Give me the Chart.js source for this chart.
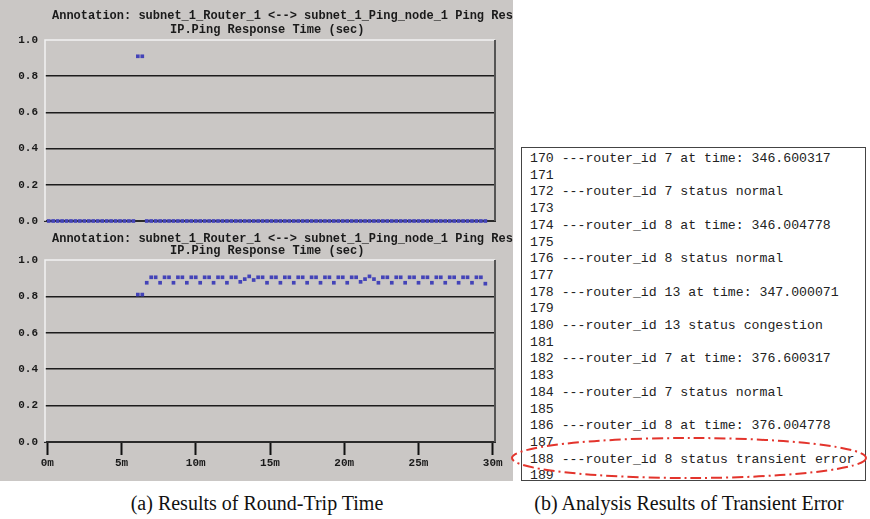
<!DOCTYPE html>
<html>
<head>
<meta charset="utf-8">
<script src="https://cdn.jsdelivr.net/npm/chart.js@4.4.1/dist/chart.umd.min.js"></script>
<style>
  body { margin: 0; width: 870px; height: 519px; background: #fff; position: relative; overflow: hidden; }
  #panel { position: absolute; left: 0; top: 0; width: 513px; height: 481px; background: #cac7c5; }
  #topWrap { position: absolute; left: 0; top: 0; width: 513px; height: 235px; }
  #botWrap { position: absolute; left: 0; top: 226px; width: 513px; height: 255px; }
  .cap { position: absolute; font-family: "Liberation Serif", serif; font-size: 20px; color: #111; white-space: nowrap; transform: translateX(-50%); }
  #log { position: absolute; left: 521px; top: 147px; width: 343px; height: 332px; border: 1.5px solid #444; background: #fff; }
  #log pre { margin: 0; padding: 3px 0 0 8px; font-family: "Liberation Mono", monospace; font-size: 13.2px; line-height: 16.7px; color: #222; }
  #ring { position: absolute; left: 0; top: 0; }
</style>
</head>
<body>
<div id="panel"></div>
<div id="topWrap"><canvas id="topChart"></canvas></div>
<div id="botWrap"><canvas id="botChart"></canvas></div>
<div class="cap" style="left:257px; top:492px;">(a) Results of Round-Trip Time</div>
<div class="cap" style="left:689px; top:492px;">(b) Analysis Results of Transient Error</div>
<div id="log"><pre id="logText"></pre></div>
<svg id="ring" width="870" height="519">
  <ellipse cx="689" cy="458" rx="177" ry="20" fill="none" stroke="#e3342c" stroke-width="2" stroke-dasharray="11 4 2 4"/>
</svg>
<script>
// sample times (minutes)
const sampleTimes = [
  0.1, 0.4, 0.7, 1.0, 1.3, 1.6, 1.9, 2.2, 2.5, 2.8,
  3.1, 3.4, 3.7, 4.0, 4.3, 4.6, 4.9, 5.2, 5.5, 5.8,
  6.1, 6.4, 6.7, 7.0, 7.3, 7.6, 7.9, 8.2, 8.5, 8.8,
  9.1, 9.4, 9.7, 10.0, 10.3, 10.6, 10.9, 11.2, 11.5, 11.8,
  12.1, 12.4, 12.7, 13.0, 13.3, 13.6, 13.9, 14.2, 14.5, 14.8,
  15.1, 15.4, 15.7, 16.0, 16.3, 16.6, 16.9, 17.2, 17.5, 17.8,
  18.1, 18.4, 18.7, 19.0, 19.3, 19.6, 19.9, 20.2, 20.5, 20.8,
  21.1, 21.4, 21.7, 22.0, 22.3, 22.6, 22.9, 23.2, 23.5, 23.8,
  24.1, 24.4, 24.7, 25.0, 25.3, 25.6, 25.9, 26.2, 26.5, 26.8,
  27.1, 27.4, 27.7, 28.0, 28.3, 28.6, 28.9, 29.2, 29.5
];

// IP.Ping response time, first run (sec)
const pingRun1 = [
  0, 0, 0, 0, 0, 0, 0, 0, 0, 0,
  0, 0, 0, 0, 0, 0, 0, 0, 0, 0,
  0.91, 0.91, 0, 0, 0, 0, 0, 0, 0, 0,
  0, 0, 0, 0, 0, 0, 0, 0, 0, 0,
  0, 0, 0, 0, 0, 0, 0, 0, 0, 0,
  0, 0, 0, 0, 0, 0, 0, 0, 0, 0,
  0, 0, 0, 0, 0, 0, 0, 0, 0, 0,
  0, 0, 0, 0, 0, 0, 0, 0, 0, 0,
  0, 0, 0, 0, 0, 0, 0, 0, 0, 0,
  0, 0, 0, 0, 0, 0, 0, 0, 0
];

// IP.Ping response time, second run (sec)
const pingRun2 = [
  null, null, null, null, null, null, null, null, null, null,
  null, null, null, null, null, null, null, null, null, null,
  0.81, 0.81, 0.875, 0.905, 0.905, 0.875, 0.905, 0.905, 0.875, 0.905,
  0.905, 0.875, 0.905, 0.905, 0.875, 0.905, 0.905, 0.875, 0.905, 0.905,
  0.875, 0.905, 0.905, 0.88, 0.895, 0.91, 0.89, 0.905, 0.905, 0.875,
  0.905, 0.905, 0.875, 0.905, 0.905, 0.875, 0.905, 0.905, 0.875, 0.905,
  0.905, 0.875, 0.905, 0.905, 0.875, 0.905, 0.905, 0.875, 0.905, 0.905,
  0.88, 0.895, 0.91, 0.895, 0.875, 0.905, 0.905, 0.875, 0.905, 0.905,
  0.875, 0.905, 0.905, 0.875, 0.905, 0.905, 0.875, 0.905, 0.905, 0.875,
  0.905, 0.905, 0.875, 0.905, 0.905, 0.875, 0.905, 0.905, 0.87
];

const xTickValues = [0, 5, 10, 15, 20, 25, 30];
const yTickValues = [0, 0.2, 0.4, 0.6, 0.8, 1.0];

const titleLines = [
  "Annotation: subnet_1_Router_1 <--> subnet_1_Ping_node_1 Ping Response Time",
  "IP.Ping Response Time (sec)"
];

const logLines = [
  "170 ---router_id 7 at time: 346.600317",
  "171",
  "172 ---router_id 7 status normal",
  "173",
  "174 ---router_id 8 at time: 346.004778",
  "175",
  "176 ---router_id 8 status normal",
  "177",
  "178 ---router_id 13 at time: 347.000071",
  "179",
  "180 ---router_id 13 status congestion",
  "181",
  "182 ---router_id 7 at time: 376.600317",
  "183",
  "184 ---router_id 7 status normal",
  "185",
  "186 ---router_id 8 at time: 376.004778",
  "187",
  "188 ---router_id 8 status transient error",
  "189"
];

document.getElementById("logText").textContent = logLines.join("\n");

const monoFont = { family: "Liberation Mono", size: 11, weight: "bold" };

// heading text + 3D-ish frame around the plot area
const framePlugin = {
  id: "frame",
  afterDraw(chart, args, opts) {
    const { ctx, chartArea: a } = chart;
    ctx.save();
    ctx.font = "bold 12px 'Liberation Mono'";
    ctx.fillStyle = "#1a1a1a";
    ctx.textBaseline = "middle";
    ctx.textAlign = "left";
    ctx.fillText(titleLines[0], 52, opts.line1);
    ctx.fillText(titleLines[1], 170, opts.line2);
    ctx.lineWidth = 1.5;
    ctx.strokeStyle = "#f2f2f2";
    ctx.beginPath();
    ctx.moveTo(a.left, a.bottom);
    ctx.lineTo(a.left, a.top);
    ctx.lineTo(a.right, a.top);
    ctx.stroke();
    ctx.strokeStyle = "#555";
    ctx.lineWidth = 2;
    ctx.beginPath();
    ctx.moveTo(a.right, a.top);
    ctx.lineTo(a.right, a.bottom);
    ctx.stroke();
    ctx.restore();
  }
};

function makeChart(canvasId, values, showX, padTop, xHeight, line1, line2) {
  return new Chart(document.getElementById(canvasId), {
    type: "line",
    data: {
      datasets: [{
        data: sampleTimes.map((t, i) => ({ x: t, y: values[i] })),
        showLine: false,
        pointStyle: "rect",
        pointRadius: 2.6,
        pointBorderWidth: 0,
        pointBackgroundColor: "#4343b8",
        borderColor: "#4343b8",
        clip: false
      }]
    },
    options: {
      responsive: true,
      maintainAspectRatio: false,
      animation: false,
      layout: { padding: { top: padTop, right: 18, left: 0, bottom: 0 } },
      plugins: {
        legend: { display: false },
        tooltip: { enabled: false },
        frame: { line1: line1, line2: line2 }
      },
      scales: {
        x: {
          type: "linear",
          min: -0.15,
          max: 30.15,
          afterBuildTicks: s => { s.ticks = xTickValues.map(v => ({ value: v })); },
          afterFit: s => { s.height = xHeight; },
          border: { color: "#2a2a2a", width: 2 },
          grid: {
            drawOnChartArea: false,
            drawTicks: showX,
            tickLength: 13,
            tickColor: "#111",
            tickWidth: 2
          },
          ticks: {
            display: showX,
            padding: 2,
            color: "#1a1a1a",
            font: monoFont,
            callback: v => v + "m"
          }
        },
        y: {
          min: 0,
          max: 1,
          afterBuildTicks: s => { s.ticks = yTickValues.map(v => ({ value: v })); },
          afterFit: s => { s.width = 45; },
          border: { display: false },
          grid: {
            drawTicks: false,
            lineWidth: 1.6,
            color: c => (c.tick && c.tick.value > 0.01 && c.tick.value < 0.99) ? "#1c1c1c" : "rgba(0,0,0,0)"
          },
          ticks: {
            padding: 7,
            color: "#1a1a1a",
            font: monoFont,
            callback: v => v.toFixed(1)
          }
        }
      }
    },
    plugins: [framePlugin]
  });
}

makeChart("topChart", pingRun1, false, 40, 14, 16, 30);
makeChart("botChart", pingRun2, true, 34, 39, 13, 25);
</script>
</body>
</html>
